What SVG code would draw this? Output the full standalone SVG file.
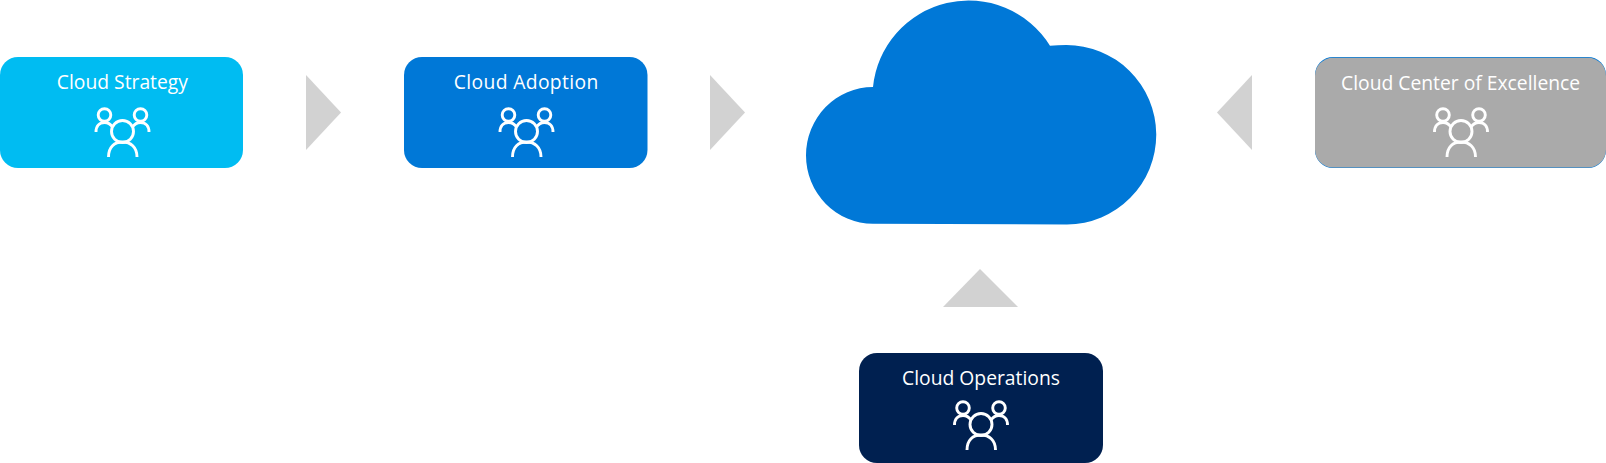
<svg xmlns="http://www.w3.org/2000/svg" width="1606" height="463" viewBox="0 0 1606 463">
<style>
.label{font-family:"Open Sans","Noto Sans","Liberation Sans",sans-serif;font-size:19.3px;fill:#fff;text-anchor:middle}
.ico{fill:none;stroke:#fff;stroke-width:2.9}
.tri{fill:#d2d2d2}
</style>
<defs>
<g id="people" class="ico">
<circle cx="104.500" cy="115" r="6.300"/>
<circle cx="140.500" cy="115" r="6.300"/>
<circle cx="122.500" cy="131.500" r="11"/>
<path d="M96 132C96 126 99.500 122.500 104.500 122.500C108 122.500 110.500 124 112.500 127"/>
<path d="M149 132C149 126 145.500 122.500 140.500 122.500C137 122.500 134.500 124 132.500 127"/>
<path d="M108.500 157C108.500 147 114.500 142 122.500 142C130.500 142 137 147 137 157"/>
</g>
</defs>
<g id="connectors">
<polygon class="tri" points="306,75 341,112.500 306,150"/>
<polygon class="tri" points="710,75 745,112.500 710,150"/>
<polygon class="tri" points="1252,75 1217,112.500 1252,150"/>
<polygon class="tri" points="980,269 1018,307 943,307"/>
</g>
<g id="cloud-strategy">
<rect x="0" y="57" width="243" height="111" rx="18" fill="#00bcf2"/>
<text class="label" x="122.400" y="89">Cloud Strategy</text>
<use href="#people"/>
</g>
<g id="cloud-adoption">
<rect x="404" y="57" width="243.500" height="111" rx="18" fill="#0078d7"/>
<text class="label" x="526" y="89" textLength="144.500">Cloud Adoption</text>
<use href="#people" x="404"/>
</g>
<g id="cloud">
<path d="M873 87A96 96 0 0 1 1050 45.700Q1058 45 1066 45A89.500 89.500 0 0 1 1067 224.500L873 223.700A67 68.350 0 0 1 873 87Z" fill="#0078d7"/>
</g>
<g id="cloud-center-of-excellence">
<rect x="1315" y="57" width="291" height="111" rx="18" fill="#0078d7"/>
<rect x="1315" y="57.800" width="291" height="109.700" rx="18" fill="#aaaaaa"/>
<text class="label" x="1460.600" y="90">Cloud Center of Excellence</text>
<use href="#people" x="1338.500"/>
</g>
<g id="cloud-operations">
<rect x="859" y="353" width="244" height="110" rx="18" fill="#002050"/>
<text class="label" x="981" y="385">Cloud Operations</text>
<use href="#people" x="858.500" y="293"/>
</g>
</svg>
